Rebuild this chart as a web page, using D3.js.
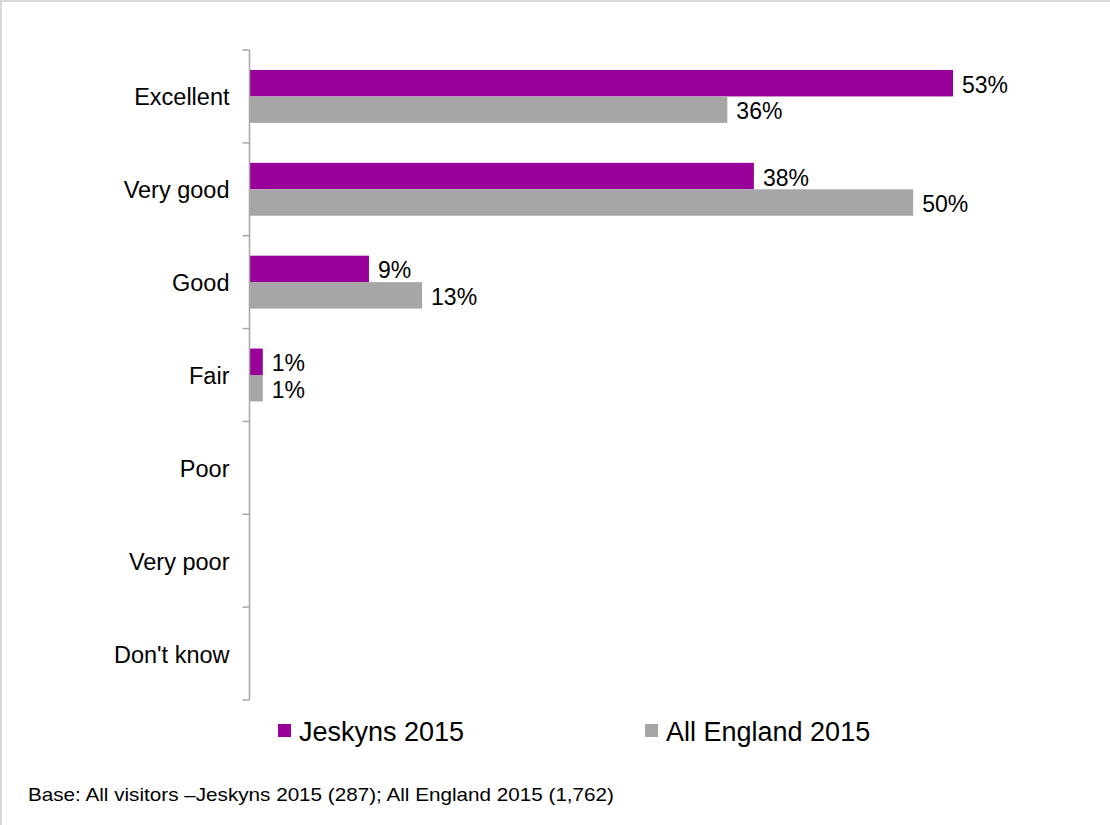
<!DOCTYPE html>
<html>
<head>
<meta charset="utf-8">
<script src="https://cdn.jsdelivr.net/npm/d3@7"></script>
<style>
  html, body { margin: 0; padding: 0; background: #fff; }
  svg { display: block; font-family: "Liberation Sans", Arial, sans-serif; }
</style>
</head>
<body>
<svg id="chart" width="1110" height="825"></svg>
<script>
// Ratings by category, two series (percent)
const categories = ["Excellent", "Very good", "Good", "Fair", "Poor", "Very poor", "Don't know"];
const seriesNames = ["Jeskyns 2015", "All England 2015"];
const jeskyns = [53, 38, 9, 1, null, null, null];
const allEngland = [36, 50, 13, 1, null, null, null];
const colors = ["#990099", "#A6A6A6"];
const footnote = "Base: All visitors \u2013Jeskyns 2015 (287); All England 2015 (1,762)";

const svg = d3.select("#chart");

// frame edges (top and left)
svg.append("rect").attr("x", 0).attr("y", 0).attr("width", 1110).attr("height", 2).attr("fill", "#d9d9d9");
svg.append("rect").attr("x", 0).attr("y", 0).attr("width", 2).attr("height", 825).attr("fill", "#d9d9d9");

const plot = { left: 249.5, top: 50, bottom: 700 };

const x = d3.scaleLinear().domain([0, 53]).range([plot.left, 953]);
const y = d3.scaleBand().domain(categories).range([plot.top, plot.bottom]).padding(0);
const bw = y.bandwidth();
const inner = d3.scaleBand().domain(seriesNames).range([bw * 0.215, bw * 0.785]).padding(0);

const data = categories.map((c, i) => ({ cat: c, values: [jeskyns[i], allEngland[i]] }));

// bars
const groups = svg.append("g").selectAll("g").data(data).join("g")
  .attr("transform", d => `translate(0,${y(d.cat)})`);

groups.selectAll("rect")
  .data(d => d.values.map((v, k) => ({ v, k })).filter(e => e.v != null))
  .join("rect")
  .attr("x", x(0))
  .attr("y", e => inner(seriesNames[e.k]))
  .attr("width", e => x(e.v) - x(0))
  .attr("height", inner.bandwidth())
  .attr("fill", e => colors[e.k]);

// value labels
groups.selectAll("text")
  .data(d => d.values.map((v, k) => ({ v, k })).filter(e => e.v != null))
  .join("text")
  .attr("x", e => x(e.v) + 9)
  .attr("y", e => inner(seriesNames[e.k]) + inner.bandwidth() / 2 + 1.5)
  .attr("dominant-baseline", "central")
  .attr("font-size", 23)
  .attr("fill", "#000")
  .text(e => e.v + "%");

// category axis: vertical line with ticks on band boundaries
const axisG = svg.append("g");
axisG.append("line")
  .attr("x1", plot.left).attr("x2", plot.left)
  .attr("y1", plot.top).attr("y2", plot.bottom)
  .attr("stroke", "#A6A6A6").attr("stroke-width", 1.5);
const bounds = categories.map(c => y(c)).concat([plot.bottom]);
axisG.selectAll("line.tick").data(bounds).join("line")
  .attr("class", "tick")
  .attr("x1", plot.left - 7).attr("x2", plot.left)
  .attr("y1", d => d).attr("y2", d => d)
  .attr("stroke", "#A6A6A6").attr("stroke-width", 1.5);

axisG.selectAll("text").data(categories).join("text")
  .attr("x", plot.left - 20)
  .attr("y", d => y(d) + bw / 2 + 1)
  .attr("text-anchor", "end")
  .attr("dominant-baseline", "central")
  .attr("font-size", 23.5)
  .attr("fill", "#000")
  .text(d => d);

// legend
const legendX = [278, 645];
const legend = svg.append("g").selectAll("g").data(seriesNames).join("g")
  .attr("transform", (d, i) => `translate(${legendX[i]},724)`);
legend.append("rect").attr("width", 13).attr("height", 13).attr("fill", (d, i) => colors[i]);
legend.append("text")
  .attr("x", 21).attr("y", 7.5)
  .attr("dominant-baseline", "central")
  .attr("font-size", 27)
  .attr("fill", "#000")
  .text(d => d);

// footnote
svg.append("text")
  .attr("x", 28).attr("y", 801)
  .attr("font-family", "'Liberation Sans Narrow', 'Arial Narrow', 'Liberation Sans', sans-serif")
  .attr("font-size", 19)
  .attr("textLength", 586)
  .attr("lengthAdjust", "spacingAndGlyphs")
  .attr("fill", "#000")
  .text(footnote);
</script>
</body>
</html>
